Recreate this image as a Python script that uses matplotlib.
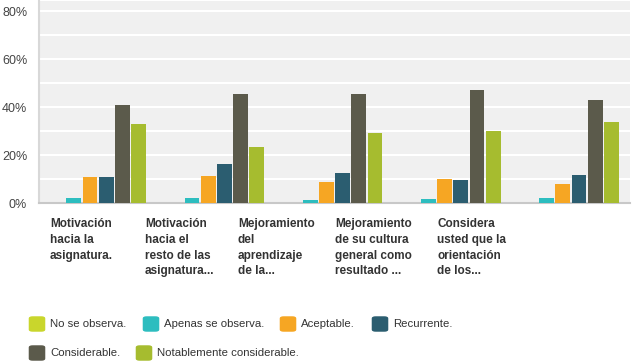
import numpy as np
import matplotlib
matplotlib.use("Agg")
import matplotlib.pyplot as plt
import matplotlib.transforms as mtransforms
from matplotlib.patches import FancyBboxPatch

categories = ["Motivación\nhacia la\nasignatura.",
              "Motivación\nhacia el\nresto de las\nasignatura...",
              "Mejoramiento\ndel\naprendizaje\nde la...",
              "Mejoramiento\nde su cultura\ngeneral como\nresultado ...",
              "Considera\nusted que la\norientación\nde los..."]
series = ["No se observa.", "Apenas se observa.", "Aceptable.", "Recurrente.",
          "Considerable.", "Notablemente considerable."]
no_se_observa = [0, 0, 0, 0, 0]
apenas = [2.1, 2.0, 1.3, 1.7, 2.1]
aceptable = [10.8, 11.3, 8.8, 10.0, 7.9]
recurrente = [10.8, 16.3, 12.5, 9.6, 11.7]
considerable = [40.8, 45.4, 45.4, 47.1, 42.9]
notable = [32.9, 23.3, 29.2, 30.0, 33.8]
values = [no_se_observa, apenas, aceptable, recurrente, considerable, notable]
colors = ["#c9d62c", "#2dbdbf", "#f6a623", "#2b5d70", "#5b5a4b", "#a6bc2f"]
yticks = [0, 20, 40, 60, 80]

W, H = 637, 364
fig = plt.figure(figsize=(W / 100, H / 100), dpi=100)
fig.patch.set_facecolor("white")
ax = fig.add_axes([39 / W, (H - 203) / H, 591 / W, 201.6 / H])
ax.set_facecolor("#f0f0f0")

x = np.arange(len(categories))
n = len(series)
step = 0.137
bw = 0.125
for i, (vals, col) in enumerate(zip(values, colors)):
    ax.bar(x + (i - (n - 1) / 2) * step, vals, width=bw, color=col, zorder=3)

ax.set_xlim(-0.5, len(categories) - 0.5)
ax.set_ylim(0, 84)
ax.set_yticks(yticks)
ax.set_yticks(np.arange(10, 81, 20), minor=True)
ax.yaxis.grid(True, which="both", color="white", lw=1.5, zorder=1)
ax.set_yticklabels([f"{v}%" for v in yticks], fontsize=9, color="#444444",
                   family="Liberation Sans")
off = mtransforms.ScaledTranslation(0, -4 / 100, fig.dpi_scale_trans)
for lab in ax.get_yticklabels():
    lab.set_transform(lab.get_transform() + off)
ax.tick_params(axis="y", which="both", length=0, pad=8.5)
ax.set_xticks([])
for s in ["top", "right"]:
    ax.spines[s].set_visible(False)
ax.spines["left"].set_color("#d8d8d8")
ax.spines["left"].set_linewidth(1.5)
ax.spines["bottom"].set_color("#c8c8c8")
ax.spines["bottom"].set_linewidth(1.5)

# category labels under each group
label_x = [50, 145, 238, 335, 437]
for lx, cat in zip(label_x, categories):
    fig.text(lx / W, 1 - 218 / H, cat, ha="left", va="top", fontsize=8.5,
             fontweight="bold", color="#333333", linespacing=1.42,
             family="Liberation Sans")

# legend
leg_pos = [(29, 324), (143, 324), (280, 324), (372, 324), (29, 353), (136, 353)]
for (lx, ly), name, col in zip(leg_pos, series, colors):
    fig.patches.append(FancyBboxPatch(((lx + 1) / W, 1 - (ly + 7) / H), 14 / W, 14 / H,
                                      boxstyle="round,pad=0.002,rounding_size=0.006",
                                      transform=fig.transFigure, color=col, lw=0))
    fig.text((lx + 21) / W, 1 - ly / H, name, ha="left", va="center", fontsize=8.2,
             color="#333333", family="Liberation Sans")

fig.savefig("out.png", dpi=100)
